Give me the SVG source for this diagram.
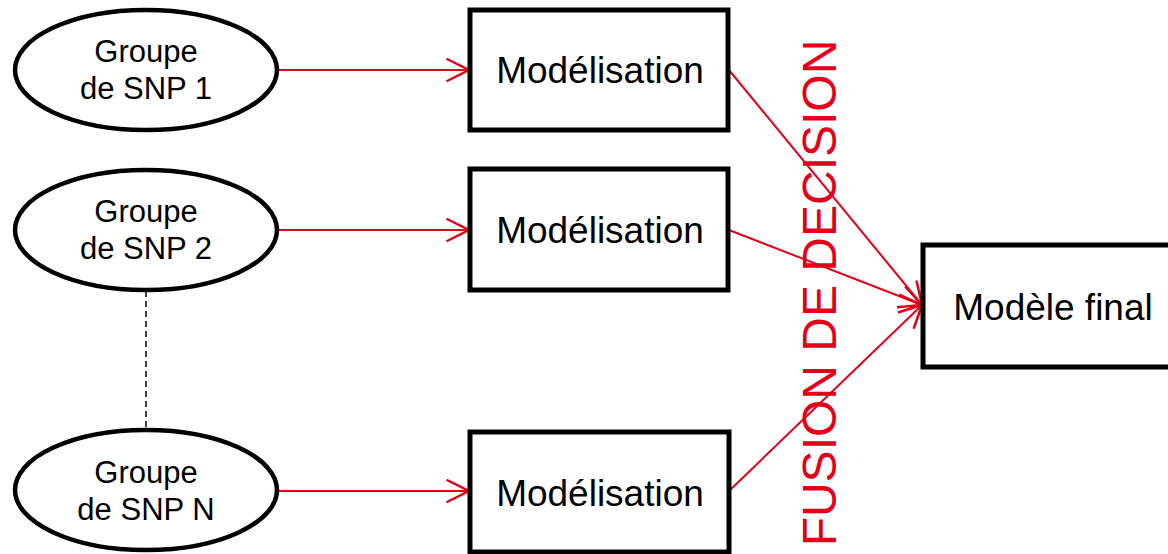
<svg xmlns="http://www.w3.org/2000/svg" width="1168" height="554" viewBox="0 0 1168 554">
<style>
.ell{fill:#fff;stroke:#000;stroke-width:4.5}
.box{fill:#fff;stroke:#000;stroke-width:5}
.t1{font-family:"Liberation Sans",Arial,sans-serif;font-size:31px;fill:#000;text-anchor:middle}
.t2{font-family:"Liberation Sans",Arial,sans-serif;font-size:37px;fill:#000;text-anchor:middle}
.conn{stroke:#e2001a;stroke-width:2;fill:none}
.fus{font-family:"Liberation Sans",Arial,sans-serif;font-size:48px;fill:#e2001a;text-anchor:middle}
</style>
<defs>
<marker id="arr" markerUnits="userSpaceOnUse" markerWidth="30" markerHeight="30" viewBox="-20 -12 24 24" refX="0" refY="0" orient="auto">
<path d="M-18,-9 L0,0 L-18,9" fill="none" stroke="#e2001a" stroke-width="2"/>
</marker>
</defs>
<g id="connectors">
<line class="conn" x1="277" y1="70" x2="469" y2="70" marker-end="url(#arr)"/>
<line class="conn" x1="277" y1="230" x2="469" y2="230" marker-end="url(#arr)"/>
<line class="conn" x1="277" y1="491" x2="469" y2="491" marker-end="url(#arr)"/>
<line class="conn" x1="729" y1="70" x2="922" y2="305" marker-end="url(#arr)"/>
<line class="conn" x1="729" y1="230" x2="922" y2="305" marker-end="url(#arr)"/>
<line class="conn" x1="729" y1="491" x2="922" y2="305" marker-end="url(#arr)"/>
<line x1="146" y1="291" x2="146" y2="430" stroke="#000" stroke-width="1.5" stroke-dasharray="6,4"/>
</g>
<g id="g1">
<ellipse class="ell" cx="146" cy="70" rx="131" ry="60"/>
<text class="t1" x="146" y="62">Groupe</text>
<text class="t1" x="146" y="99">de SNP 1</text>
</g>
<g id="g2">
<ellipse class="ell" cx="146" cy="230" rx="131" ry="60"/>
<text class="t1" x="146" y="222">Groupe</text>
<text class="t1" x="146" y="259">de SNP 2</text>
</g>
<g id="gN">
<ellipse class="ell" cx="146" cy="490" rx="131" ry="60"/>
<text class="t1" x="146" y="483">Groupe</text>
<text class="t1" x="146" y="520">de SNP N</text>
</g>
<g id="m1">
<rect class="box" x="470" y="10" width="258" height="120"/>
<text class="t2" x="600" y="83">Modélisation</text>
</g>
<g id="m2">
<rect class="box" x="470" y="169" width="258" height="121"/>
<text class="t2" x="600" y="243">Modélisation</text>
</g>
<g id="m3">
<rect class="box" x="470" y="432" width="259" height="120"/>
<text class="t2" x="600" y="506">Modélisation</text>
</g>
<g id="final">
<rect class="box" x="923" y="245" width="260" height="122"/>
<text class="t2" x="1053" y="320">Modèle final</text>
</g>
<g id="fusion">
<text class="fus" transform="translate(836,293) rotate(-90)">FUSION DE DECISION</text>
</g>
</svg>
